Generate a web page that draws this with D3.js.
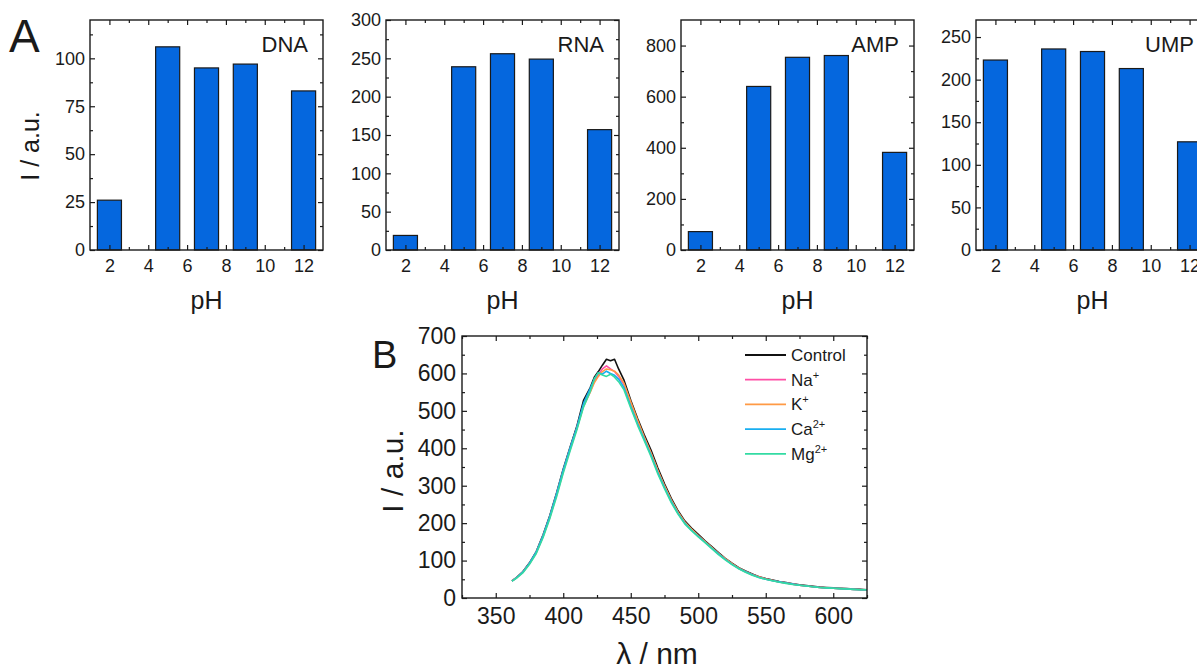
<!DOCTYPE html>
<html>
<head>
<meta charset="utf-8">
<script src="https://cdn.jsdelivr.net/npm/d3@7"></script>
<style>
  body { margin: 0; background: #fff; }
  svg { display: block; font-family: "Liberation Sans", Arial, sans-serif; }
</style>
</head>
<body>
<svg id="chart" width="1197" height="669"></svg>
<script>
// panel A: intensity vs pH
const phValues = [2, 5, 7, 9, 12];
const barNames = ["DNA", "RNA", "AMP", "UMP"];
const dnaValues = [26, 106, 95, 97, 83];
const rnaValues = [19, 239, 256, 249, 157];
const ampValues = [72, 640, 754, 761, 382];
const umpValues = [223, 236, 233, 213, 127];

// panel B: emission spectra
const wavelengths = [362, 365, 370, 375, 380, 385, 390, 395, 400, 405, 410, 415, 420,
  423, 426, 429, 432, 435, 438, 441, 445, 450, 455, 460, 465, 470, 475, 480, 485, 490,
  495, 500, 505, 510, 515, 520, 525, 530, 535, 540, 545, 550, 555, 560, 565, 570, 575,
  580, 585, 590, 595, 600, 605, 610, 615, 620, 625];
const controlValues = [46, 54, 70, 94, 124, 168, 220, 280, 345, 402, 458, 528, 562,
  590, 605, 622, 638, 634, 638, 612, 582, 528, 480, 436, 395, 348, 305, 266, 233, 206,
  187, 170, 153, 137, 121, 106, 93, 81, 72, 64, 57, 52, 48, 44, 41, 38, 35,
  33, 31, 29, 28, 27, 26, 25, 24, 23, 22];
const naValues = [46, 53, 69, 92, 121, 164, 215, 274, 338, 396, 452, 515, 552,
  578, 597, 612, 620, 612, 605, 592, 570, 518, 470, 428, 386, 340, 298, 260, 228, 202,
  183, 166, 150, 134, 118, 104, 91, 79, 70, 62, 56, 51, 47, 43, 40, 37, 34,
  32, 30, 28, 27, 26, 25, 24, 23, 22, 22];
const kValues = [45, 53, 69, 92, 122, 165, 216, 276, 340, 398, 452, 512, 550,
  575, 592, 605, 612, 610, 606, 596, 574, 524, 476, 430, 388, 342, 300, 262, 230, 203,
  184, 167, 151, 135, 119, 105, 92, 80, 71, 63, 56, 51, 47, 43, 40, 37, 34,
  32, 30, 28, 27, 26, 25, 24, 23, 22, 22];
const caValues = [45, 53, 69, 93, 123, 166, 218, 278, 342, 400, 455, 520, 560,
  585, 602, 598, 606, 600, 595, 585, 562, 512, 466, 424, 382, 336, 295, 258, 226, 200,
  181, 165, 149, 133, 118, 103, 90, 79, 70, 62, 55, 50, 46, 43, 40, 37, 34,
  32, 30, 28, 27, 26, 25, 24, 23, 22, 22];
const mgValues = [45, 52, 67, 90, 119, 161, 212, 270, 334, 392, 448, 510, 552,
  585, 602, 596, 592, 598, 590, 578, 556, 508, 462, 420, 378, 332, 292, 255, 224, 198,
  180, 163, 148, 132, 116, 102, 89, 78, 69, 61, 55, 50, 46, 42, 39, 36, 34,
  32, 30, 28, 27, 26, 25, 24, 23, 22, 22];
const seriesNames = ["Control", "Na", "K", "Ca", "Mg"];
const seriesCharges = ["", "+", "+", "2+", "2+"];

const svg = d3.select("#chart");
const ink = "#1a1a1a";

// box with inward ticks on all four sides
function frame(g, x, y, xt, yt, opt) {
  const [x0, x1] = x.range();
  const [y0, y1] = y.range();
  const big = 5, small = 3;
  const axes = [
    [d3.axisBottom(x), `translate(0,${y0})`, xt.major, big, true],
    [d3.axisBottom(x), `translate(0,${y0})`, xt.minor, small, false],
    [d3.axisTop(x), `translate(0,${y1})`, xt.major, big, false],
    [d3.axisTop(x), `translate(0,${y1})`, xt.minor, small, false],
    [d3.axisLeft(y), `translate(${x0},0)`, yt.major, big, opt.yLabels],
    [d3.axisLeft(y), `translate(${x0},0)`, yt.minor, small, false],
    [d3.axisRight(y), `translate(${x1},0)`, yt.major, big, false],
    [d3.axisRight(y), `translate(${x1},0)`, yt.minor, small, false]
  ];
  axes.forEach(([ax, tr, vals, len, labels], i) => {
    const isX = i < 4;
    ax.tickValues(vals).tickSizeInner(-len).tickSizeOuter(0)
      .tickPadding(isX ? opt.xPad : opt.yPad);
    if (!labels) ax.tickFormat("");
    const a = g.append("g").attr("transform", tr).call(ax);
    a.select(".domain").remove();
    a.selectAll("line").attr("stroke", ink).attr("stroke-width", 1.2);
    a.selectAll("text").attr("fill", ink).attr("font-size", opt.fontSize)
      .attr("font-family", null);
  });
  g.append("rect")
    .attr("x", x0).attr("y", y1)
    .attr("width", x1 - x0).attr("height", y0 - y1)
    .attr("fill", "none").attr("stroke", ink).attr("stroke-width", 1.4);
}

// ---- panel A ----
const barSets = [dnaValues, rnaValues, ampValues, umpValues];
const barMax = [120, 300, 900, 270];
const barStep = [25, 50, 200, 50];
const barLefts = [90, 386, 681, 976];
const barW = 233, barTop = 20, barBottom = 250;

barSets.forEach((vals, i) => {
  const g = svg.append("g");
  const x = d3.scaleLinear().domain([1, 13]).range([barLefts[i], barLefts[i] + barW]);
  const y = d3.scaleLinear().domain([0, barMax[i]]).range([barBottom, barTop]);
  const st = barStep[i];
  const yMajor = d3.range(0, barMax[i] + 0.01, st);
  const yMinor = d3.range(st / 2, barMax[i], st);

  g.selectAll("rect.bar")
    .data(phValues.map((p, j) => ({ p, v: vals[j] })))
    .join("rect")
    .attr("class", "bar")
    .attr("x", d => x(d.p - 0.62))
    .attr("width", x(1.62) - x(0.38))
    .attr("y", d => y(d.v))
    .attr("height", d => y(0) - y(d.v))
    .attr("fill", "#0567de")
    .attr("stroke", ink).attr("stroke-width", 1.2);

  frame(g, x, y,
    { major: d3.range(2, 13, 2), minor: d3.range(3, 13, 2) },
    { major: yMajor, minor: yMinor },
    { fontSize: 18, xPad: 9, yPad: 5, yLabels: true });

  g.append("text")
    .attr("x", barLefts[i] + barW - 15).attr("y", 52)
    .attr("text-anchor", "end").attr("font-size", 22).attr("fill", ink)
    .text(barNames[i]);

  g.append("text")
    .attr("x", barLefts[i] + barW / 2).attr("y", 309)
    .attr("text-anchor", "middle").attr("font-size", 25).attr("fill", ink)
    .text("pH");
});

svg.append("text")
  .attr("transform", "translate(39,146) rotate(-90)")
  .attr("text-anchor", "middle").attr("font-size", 25).attr("fill", ink)
  .text("I / a.u.");

svg.append("text").attr("x", 9).attr("y", 52)
  .attr("font-size", 46).attr("fill", ink).text("A");

// ---- panel B ----
const gB = svg.append("g");
const xB = d3.scaleLinear().domain([325, 625]).range([462, 867]);
const yB = d3.scaleLinear().domain([0, 700]).range([598, 336]);
const colors = ["#111111", "#ff4fa6", "#ff9a45", "#18aef0", "#33dba3"];
const spectra = [controlValues, naValues, kValues, caValues, mgValues];

const line = d3.line()
  .x((d, j) => xB(wavelengths[j]))
  .y(d => yB(d));

gB.selectAll("path.spec")
  .data(spectra)
  .join("path")
  .attr("class", "spec")
  .attr("d", d => line(d))
  .attr("fill", "none")
  .attr("stroke", (d, i) => colors[i])
  .attr("stroke-width", 1.6)
  .attr("stroke-linejoin", "round");

frame(gB, xB, yB,
  { major: d3.range(350, 601, 50), minor: d3.range(325, 626, 50) },
  { major: d3.range(0, 701, 100), minor: d3.range(50, 700, 100) },
  { fontSize: 23, xPad: 10, yPad: 6, yLabels: true });

// legend
const leg = gB.append("g");
seriesNames.forEach((name, i) => {
  const cy = 355 + i * 24.7;
  leg.append("line")
    .attr("x1", 745).attr("x2", 786).attr("y1", cy).attr("y2", cy)
    .attr("stroke", colors[i]).attr("stroke-width", 1.8);
  const t = leg.append("text")
    .attr("x", 791).attr("y", cy + 6)
    .attr("font-size", 17).attr("fill", ink)
    .text(name);
  if (seriesCharges[i]) {
    t.append("tspan").attr("dy", -7).attr("font-size", 11).text(seriesCharges[i]);
  }
});

svg.append("text")
  .attr("transform", "translate(403,471) rotate(-90)")
  .attr("text-anchor", "middle").attr("font-size", 30).attr("fill", ink)
  .text("I / a.u.");

svg.append("text")
  .attr("x", 657).attr("y", 664)
  .attr("text-anchor", "middle").attr("font-size", 30).attr("fill", ink)
  .text("λ / nm");

svg.append("text").attr("x", 372).attr("y", 368)
  .attr("font-size", 38).attr("fill", ink).text("B");
</script>
</body>
</html>
